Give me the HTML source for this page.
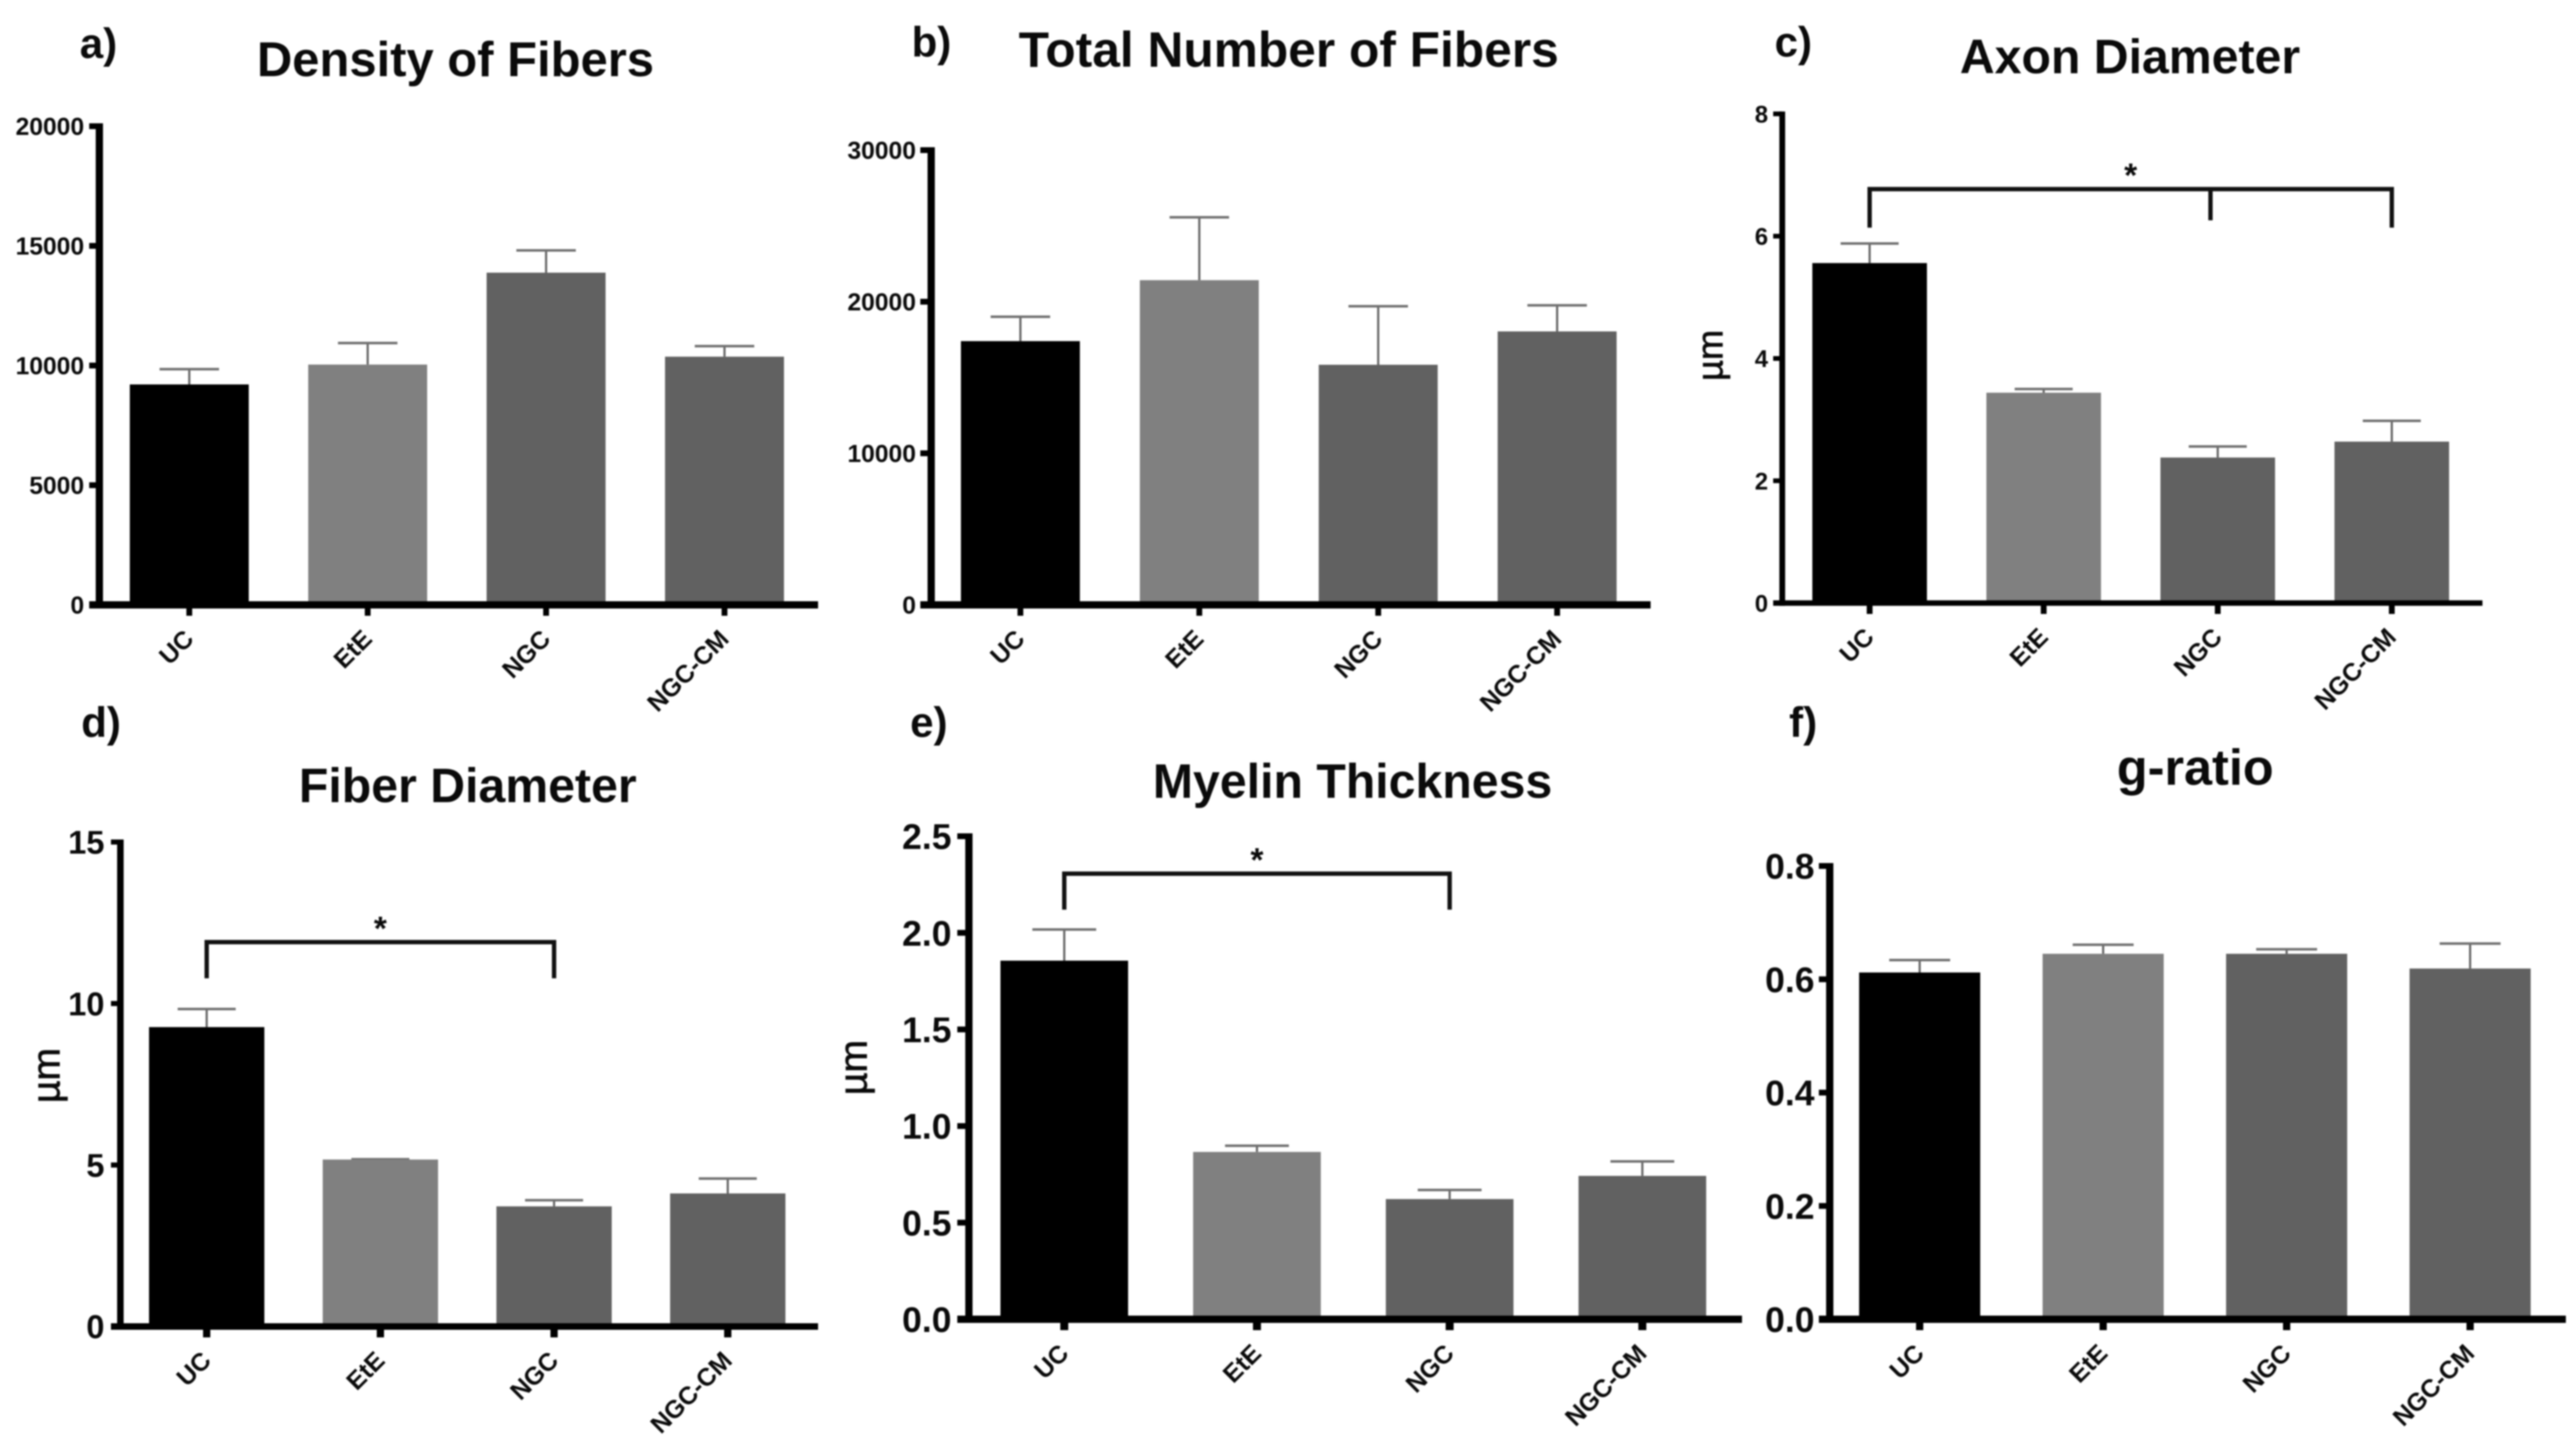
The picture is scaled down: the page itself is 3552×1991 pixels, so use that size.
<!DOCTYPE html>
<html lang="en">
<head>
<meta charset="utf-8">
<title>Nerve fiber morphometry bar charts</title>
<style>
  html, body { margin: 0; padding: 0; width: 3552px; height: 1991px; overflow: hidden; background: #fff; }
  svg { display: block; filter: blur(1.1px); }
  text { font-family: "Liberation Sans", sans-serif; fill: #0a0a0a; }
  .title, .letter { font-weight: bold; }
  .unit { stroke: #0a0a0a; stroke-width: 0.9px; }
</style>
</head>
<body>
<svg id="figure" xmlns="http://www.w3.org/2000/svg" width="3552" height="1991" viewBox="0 0 3552 1991">
  <rect x="0" y="0" width="3552" height="1991" fill="#ffffff"/>

  <text class="letter" x="110" y="80" font-size="58">a)</text>
  <text class="letter" x="1257" y="78" font-size="58">b)</text>
  <text class="letter" x="2447" y="78" font-size="58">c)</text>
  <text class="letter" x="112" y="1016" font-size="58">d)</text>
  <text class="letter" x="1255" y="1016" font-size="58">e)</text>
  <text class="letter" x="2467" y="1016" font-size="58">f)</text>

  <text class="title" x="628" y="105" font-size="67.5" text-anchor="middle">Density of Fibers</text>
  <text class="title" x="1777" y="92" font-size="68.5" text-anchor="middle">Total Number of Fibers</text>
  <text class="title" x="2937" y="101" font-size="66.5" text-anchor="middle">Axon Diameter</text>
  <text class="title" x="645" y="1106" font-size="66.5" text-anchor="middle">Fiber Diameter</text>
  <text class="title" x="1865" y="1100" font-size="66.5" text-anchor="middle">Myelin Thickness</text>
  <text class="title" x="3027" y="1082" font-size="69.5" text-anchor="middle">g-ratio</text>

  <text class="unit" transform="translate(2375,490) rotate(-90)" font-size="50" text-anchor="middle">µm</text>
  <text class="unit" transform="translate(82,1483) rotate(-90)" font-size="54" text-anchor="middle">µm</text>
  <text class="unit" transform="translate(1195,1472) rotate(-90)" font-size="54" text-anchor="middle">µm</text>
</svg>

<script>
// ---- Data ----
var categories = ['UC', 'EtE', 'NGC', 'NGC-CM'];

var densityTicks = ['0', '5000', '10000', '15000', '20000'];
var densityValues = [9210, 10040, 13880, 10370];
var densityErrors = [640, 900, 930, 440];

var totalTicks = ['0', '10000', '20000', '30000'];
var totalValues = [17400, 21420, 15840, 18040];
var totalErrors = [1610, 4150, 3860, 1720];

var axonTicks = ['0', '2', '4', '6', '8'];
var axonValues = [5.56, 3.44, 2.38, 2.64];
var axonErrors = [0.32, 0.06, 0.18, 0.34];

var fiberTicks = ['0', '5', '10', '15'];
var fiberValues = [9.27, 5.17, 3.72, 4.12];
var fiberErrors = [0.56, 0.01, 0.19, 0.46];

var myelinTicks = ['0.0', '0.5', '1.0', '1.5', '2.0', '2.5'];
var myelinValues = [1.856, 0.866, 0.622, 0.742];
var myelinErrors = [0.161, 0.032, 0.047, 0.075];

var gratioTicks = ['0.0', '0.2', '0.4', '0.6', '0.8'];
var gratioValues = [0.612, 0.645, 0.645, 0.619];
var gratioErrors = [0.022, 0.016, 0.008, 0.044];

// Significance brackets: spanned categories and levels in data units
var axonBracket = { from: 0, to: 3, mid: 2, level: 6.77, drop: 6.14, midDrop: 6.26 };
var fiberBracket = { from: 0, to: 2, level: 11.9, drop: 10.78 };
var myelinBracket = { from: 0, to: 2, level: 2.306, drop: 2.12 };

var barColors = ['#000000', '#808080', '#616161', '#616161'];

var SVG_NS = 'http://www.w3.org/2000/svg';
var figure = document.getElementById('figure');

function make(tag, attrs, parent) {
  var el = document.createElementNS(SVG_NS, tag);
  for (var k in attrs) { el.setAttribute(k, attrs[k]); }
  parent.appendChild(el);
  return el;
}

function drawChart(cfg) {
  var maxValue = parseFloat(cfg.ticks[cfg.ticks.length - 1]);
  function yScale(v) { return cfg.y0 - (v / maxValue) * (cfg.y0 - cfg.yTop); }
  function xScale(i) { return cfg.x0 + i * cfg.step; }

  var chart = make('g', {}, figure);
  
  

  cfg.values.forEach(function (value, i) {
    var cx = xScale(i);
    var top = yScale(value + cfg.errors[i]);
    var stem = make('line', { x1: cx, x2: cx, y1: top, y2: yScale(value), stroke: '#666666', 'stroke-width': 3 }, chart);
    
    
    var cap = make('line', { x1: cx - cfg.cap / 2, x2: cx + cfg.cap / 2, y1: top, y2: top, stroke: '#707070', 'stroke-width': 3.5 }, chart);
    
    
    var bar = make('rect', { x: cx - cfg.barW / 2, y: yScale(value), width: cfg.barW, height: cfg.y0 - yScale(value), fill: barColors[i] }, chart);
    
    
  });

  var yAxis = make('line', { x1: cfg.axisX, x2: cfg.axisX, y1: yScale(maxValue) - cfg.tickW / 2, y2: cfg.y0 + cfg.xW / 2, stroke: '#000', 'stroke-width': cfg.yW }, chart);
  
  
  var xAxis = make('line', { x1: cfg.tickLeft, x2: cfg.axisEnd, y1: cfg.y0, y2: cfg.y0, stroke: '#000', 'stroke-width': cfg.xW }, chart);
  
  

  cfg.ticks.forEach(function (label) {
    var y = yScale(parseFloat(label));
    var mark = make('line', { x1: cfg.tickLeft, x2: cfg.axisX, y1: y, y2: y, stroke: '#000', 'stroke-width': cfg.tickW }, chart);
    
    
    var t = make('text', { x: cfg.labelRight, y: y + cfg.tickFont * 0.36, 'font-size': cfg.tickFont, 'font-weight': 'bold', 'text-anchor': 'end' }, chart);
    t.textContent = label;
    
    
  });

  categories.forEach(function (name, i) {
    var cx = xScale(i);
    var mark = make('line', { x1: cx, x2: cx, y1: cfg.y0, y2: cfg.y0 + 15, stroke: '#000', 'stroke-width': cfg.xTickW }, chart);
    
    
    var ax = cx + 8, ay = cfg.y0 + 49;
    var t = make('text', { x: ax, y: ay, transform: 'rotate(-45 ' + ax + ' ' + ay + ')', 'font-size': 34.5, 'font-weight': 'bold', 'text-anchor': 'end' }, chart);
    t.textContent = name;
    
    
  });

  if (cfg.bracket) {
    var b = cfg.bracket;
    var bx1 = xScale(b.from), bx2 = xScale(b.to), by = yScale(b.level), bd = yScale(b.drop);
    var d = 'M' + bx1 + ' ' + bd + 'V' + by + 'H' + bx2 + 'V' + bd;
    if (b.mid !== undefined) {
      d += 'M' + (xScale(b.mid) - 10) + ' ' + by + 'V' + yScale(b.midDrop);
    }
    var bracket = make('path', { d: d, fill: 'none', stroke: '#111', 'stroke-width': 6 }, chart);
    
    
    var star = make('text', { x: (bx1 + bx2) / 2, y: by - 3, 'font-size': 46, 'font-weight': 'bold', 'text-anchor': 'middle' }, chart);
    star.textContent = '*';
    
    
  }
}

drawChart({ name: 'density', ticks: densityTicks, values: densityValues, errors: densityErrors,
  y0: 834, yTop: 174, x0: 261, step: 246, barW: 164, cap: 82, axisX: 137, yW: 10, xW: 10, tickW: 8, xTickW: 8, tickLeft: 123, axisEnd: 1128, labelRight: 116, tickFont: 34 });
drawChart({ name: 'total-number', ticks: totalTicks, values: totalValues, errors: totalErrors,
  y0: 834, yTop: 207, x0: 1407, step: 246.7, barW: 164, cap: 82, axisX: 1284, yW: 10, xW: 10, tickW: 8, xTickW: 8, tickLeft: 1269, axisEnd: 2276, labelRight: 1263, tickFont: 34 });
drawChart({ name: 'axon-diameter', ticks: axonTicks, values: axonValues, errors: axonErrors, bracket: axonBracket,
  y0: 831.5, yTop: 157, x0: 2578, step: 240, barW: 158, cap: 80, axisX: 2457.5, yW: 8, xW: 7.5, tickW: 6.5, xTickW: 8, tickLeft: 2445, axisEnd: 3423, labelRight: 2438, tickFont: 33 });
drawChart({ name: 'fiber-diameter', ticks: fiberTicks, values: fiberValues, errors: fiberErrors, bracket: fiberBracket,
  y0: 1829, yTop: 1161, x0: 285, step: 239.5, barW: 159, cap: 80, axisX: 166, yW: 9, xW: 9, tickW: 7, xTickW: 10, tickLeft: 153, axisEnd: 1128, labelRight: 144, tickFont: 45 });
drawChart({ name: 'myelin-thickness', ticks: myelinTicks, values: myelinValues, errors: myelinErrors, bracket: myelinBracket,
  y0: 1819, yTop: 1153, x0: 1467.5, step: 265.7, barW: 176, cap: 88, axisX: 1336, yW: 10, xW: 10, tickW: 8, xTickW: 11, tickLeft: 1320, axisEnd: 2402, labelRight: 1312, tickFont: 49 });
drawChart({ name: 'g-ratio', ticks: gratioTicks, values: gratioValues, errors: gratioErrors,
  y0: 1819, yTop: 1194, x0: 2647, step: 253, barW: 167, cap: 84, axisX: 2523, yW: 10, xW: 10, tickW: 8, xTickW: 10, tickLeft: 2508, axisEnd: 3538, labelRight: 2502, tickFont: 49 });
</script>
</body>
</html>
